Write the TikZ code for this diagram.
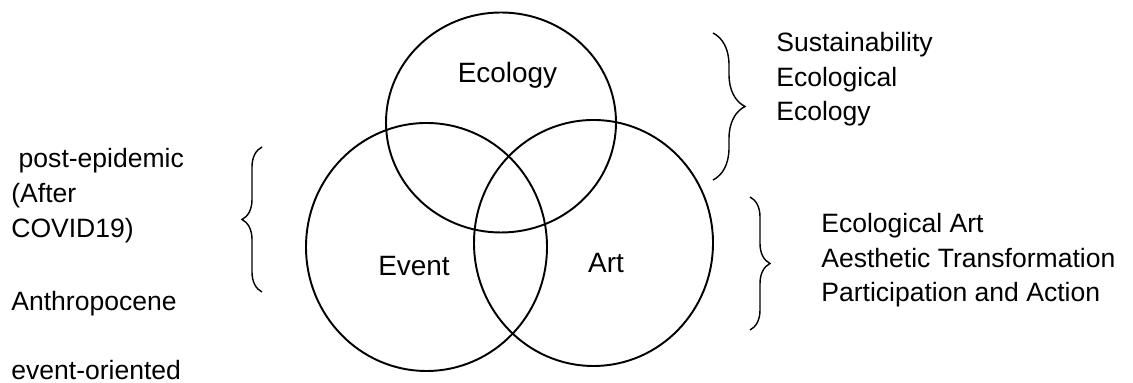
\documentclass[tikz,border=0pt]{standalone}
\usepackage{fontspec}
\setmainfont{Liberation Sans}
\usepackage{tikz}
\usetikzlibrary{shapes.geometric,decorations.pathreplacing}
\newcommand{\ecoterms}{Sustainability\\Ecological\\Ecology}
\newcommand{\artterms}{Ecological Art\\Aesthetic Transformation\\Participation and Action}
\newcommand{\eventterms}{\ post-epidemic\\(After\\COVID19)\\[0.76cm]Anthropocene\\[0.7cm]event-oriented}
\tikzstyle{ring} = [draw, ellipse, inner sep=0pt, line width=1.1pt]
\tikzstyle{title} = [font=\fontsize{15.9}{19}\selectfont, inner sep=0pt, anchor=base]
% multi-line: base anchor sits on the last line
\tikzstyle{terms} = [font=\fontsize{15.1}{19.9}\selectfont, align=left, inner sep=0pt, anchor=base west]
\tikzstyle{curly} = [decorate, line width=0.8pt]

\begin{document}
\begin{tikzpicture}
			\useasboundingbox (0,0) rectangle (22.66,7.66);
			% the three sets
			\node[ring, minimum width=4.6cm, minimum height=4.4cm] (ecology) at (10.02, 5.21) {};
			\node[ring, minimum width=4.82cm, minimum height=4.96cm] (event) at (8.53, 2.72) {};
			\node[ring, minimum width=4.78cm, minimum height=4.92cm] (art) at (11.87, 2.80) {};
			\node[title] (ecologyname) at (10.15, 6.01) {Ecology};
			\node[title] (eventname) at (8.28, 2.14) {Event};
			\node[title] (artname) at (12.12, 2.21) {Art};
			% keywords beside each set
			\node[terms] (ecoterms) at (15.52, 5.24) {\ecoterms};
			\node[terms] (artterms) at (16.42, 1.62) {\artterms};
			\node[terms] (eventterms) at (0.22, 0.06) {\eventterms};
			\draw[curly, decoration={brace, amplitude=0.64cm}] (14.26, 7.00) -- (14.26, 4.06);
			\draw[curly, decoration={brace, amplitude=0.4cm}] (15.00, 3.72) -- (15.00, 1.06);
			\draw[curly, decoration={brace, amplitude=0.4cm}] (5.24, 1.82) -- (5.24, 4.72);
		\end{tikzpicture}
\end{document}
